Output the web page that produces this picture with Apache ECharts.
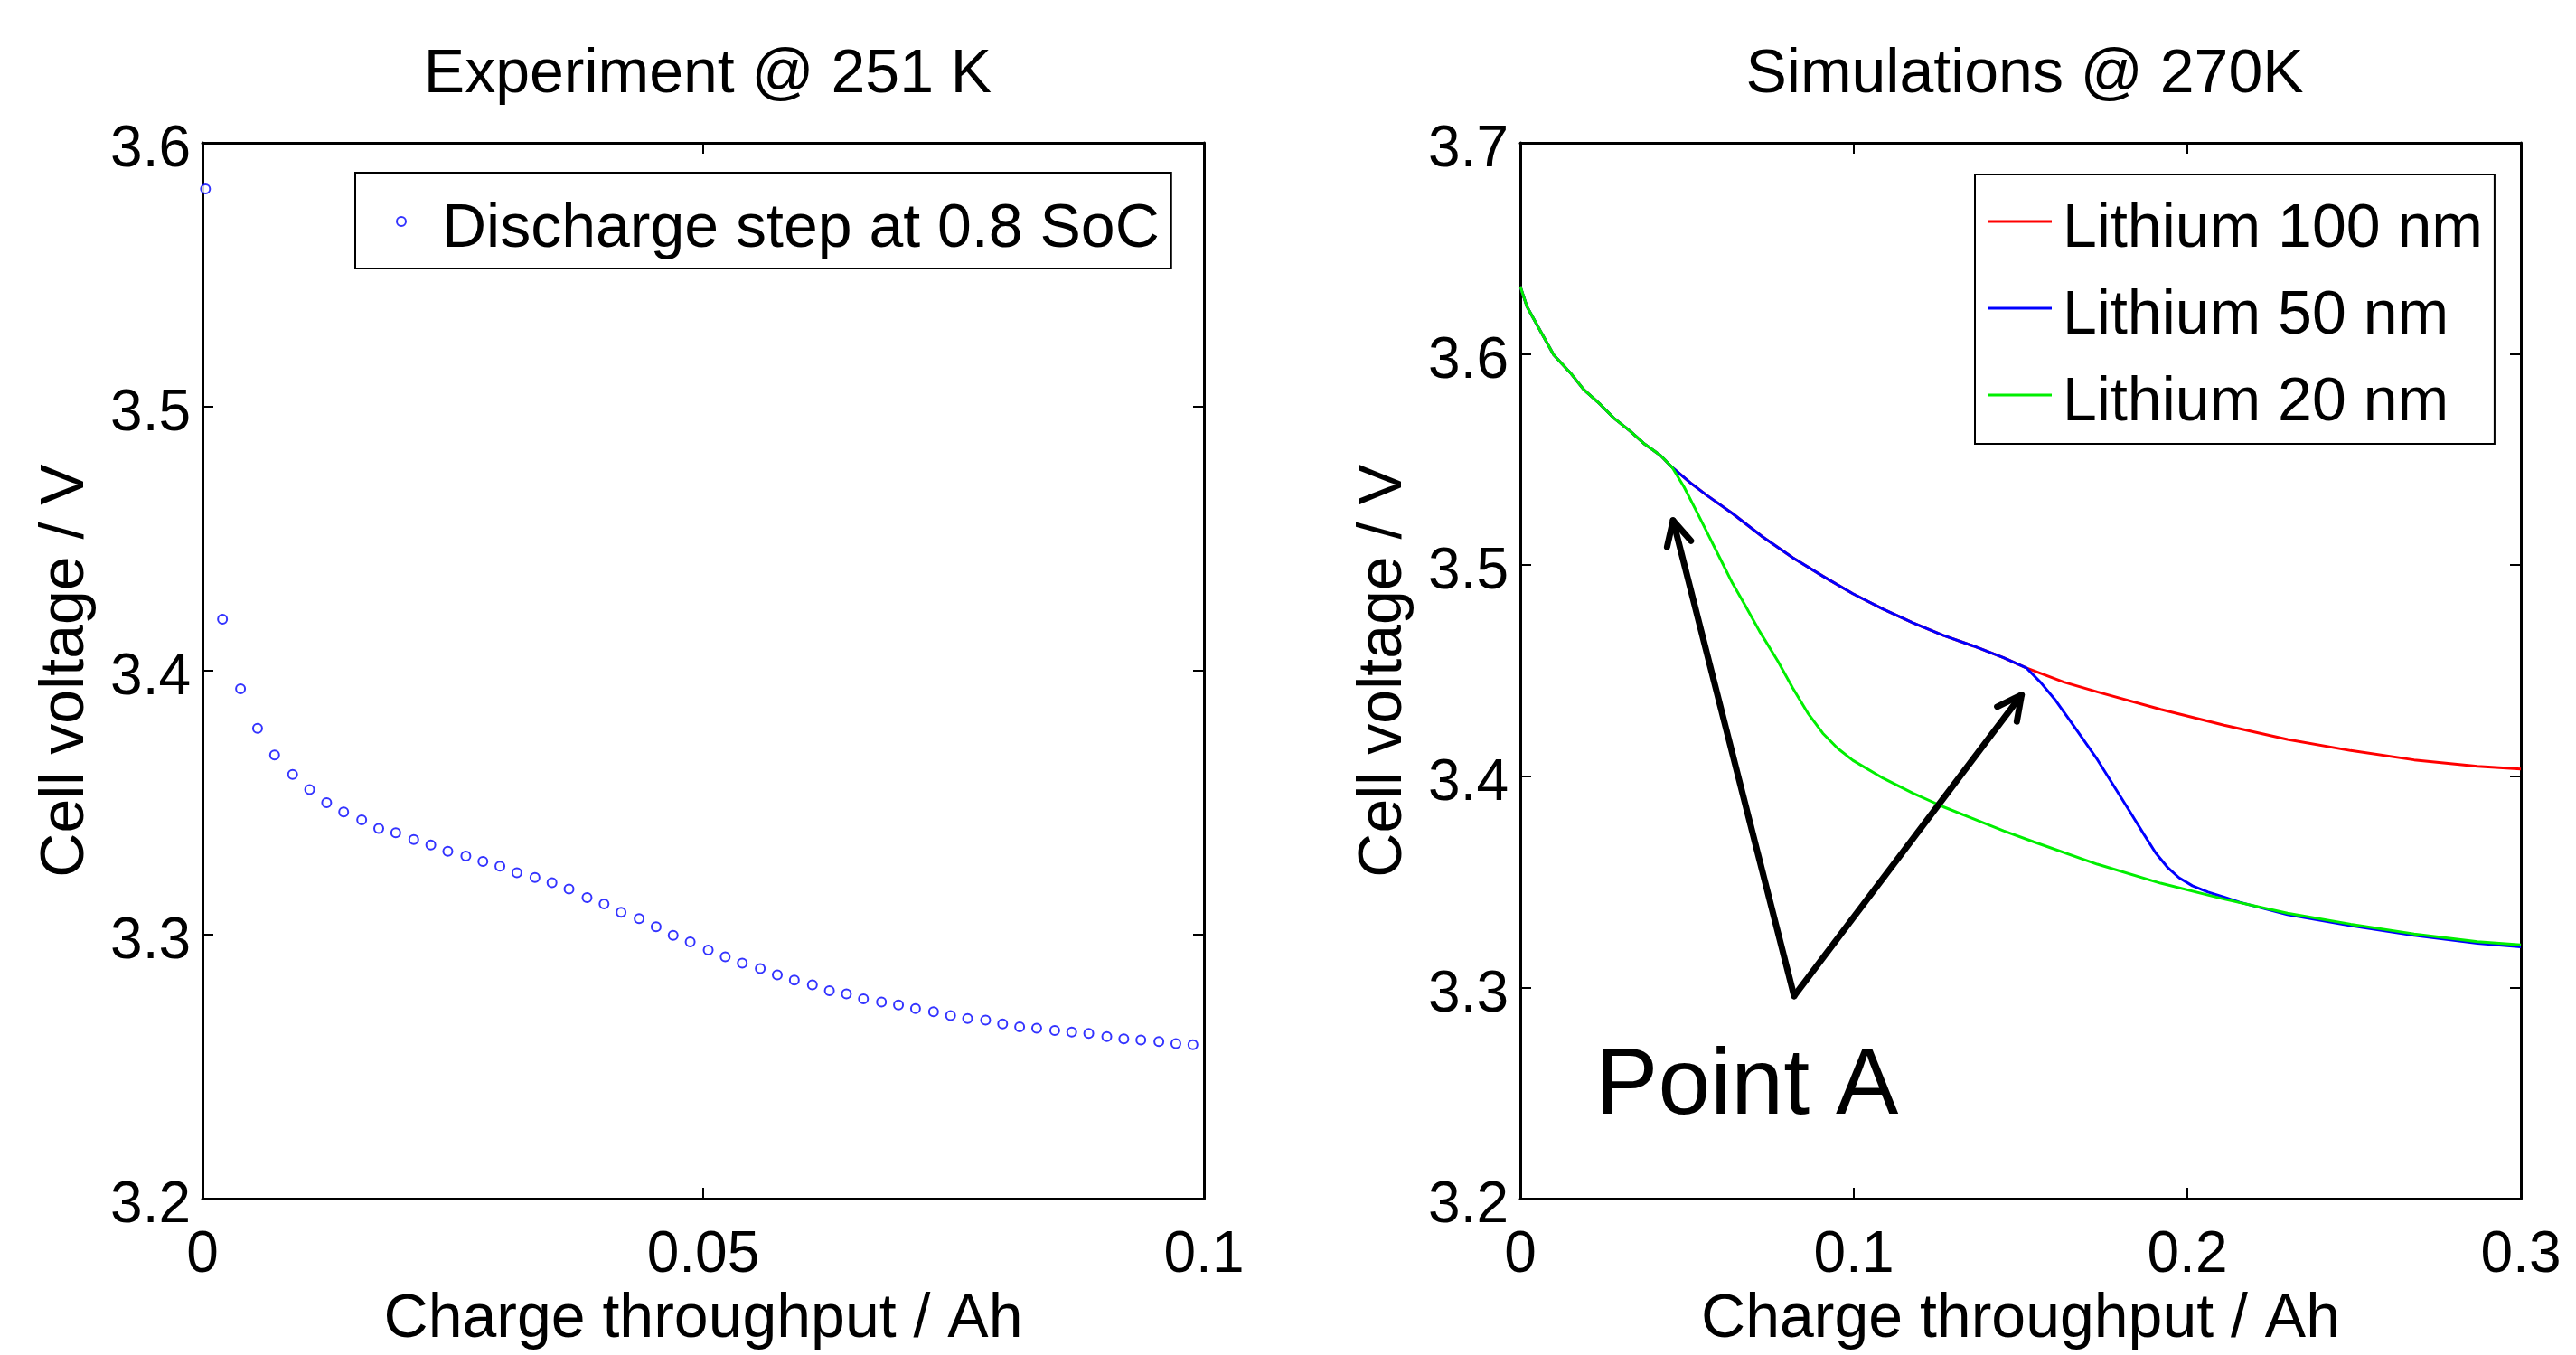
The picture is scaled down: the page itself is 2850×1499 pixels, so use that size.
<!DOCTYPE html>
<html>
<head>
<meta charset="utf-8">
<script src="https://cdn.jsdelivr.net/npm/echarts@6/dist/echarts.min.js"></script>
<style>
html,body{margin:0;padding:0;background:#fff;}
#chart{width:2850px;height:1499px;}
</style>
</head>
<body>
<div id="chart"></div>
<script>
// ---------- Left panel: experiment @ 251 K ----------
const expQ = [0.0003,0.0020,0.0038,0.0055,0.0072,0.0090,0.0107,0.0124,0.0141,0.0159,
  0.0176,0.0193,0.0211,0.0228,0.0245,0.0263,0.0280,0.0297,0.0314,0.0332,
  0.0349,0.0366,0.0384,0.0401,0.0418,0.0436,0.0453,0.0470,0.0487,0.0505,
  0.0522,0.0539,0.0557,0.0574,0.0591,0.0609,0.0626,0.0643,0.0660,0.0678,
  0.0695,0.0712,0.0730,0.0747,0.0764,0.0782,0.0799,0.0816,0.0833,0.0851,
  0.0868,0.0885,0.0903,0.0920,0.0937,0.0955,0.0972,0.0989];
const expV = [3.5825,3.4195,3.3932,3.3782,3.3681,3.3607,3.3550,3.3500,3.3465,3.3435,
  3.3403,3.3386,3.3361,3.3340,3.3316,3.3298,3.3278,3.3260,3.3235,3.3217,
  3.3197,3.3173,3.3141,3.3117,3.3085,3.3061,3.3030,3.2998,3.2973,3.2942,
  3.2916,3.2892,3.2872,3.2848,3.2828,3.2810,3.2788,3.2776,3.2757,3.2745,
  3.2734,3.2720,3.2708,3.2694,3.2683,3.2677,3.2662,3.2651,3.2646,3.2637,
  3.2631,3.2626,3.2614,3.2606,3.2601,3.2595,3.2588,3.2583];
const leftXTicks = {min:0, max:0.1, interval:0.05};
const leftYTicks = {min:3.2, max:3.6, interval:0.1};

// ---------- Right panel: simulations @ 270K ----------
// part shared by all three curves
const commonQ = [0,0.002,0.006,0.010,0.015,0.019,0.024,0.028,0.033,0.037,0.042,0.0455];
const commonV = [3.632,3.6224,3.611,3.5996,3.5911,3.5832,3.5761,3.5697,3.5634,3.5577,3.552,3.5464];
// part shared by 100 nm and 50 nm
const upperQ = [0.051,0.056,0.0636,0.0726,0.0817,0.0907,0.0997,0.1088,0.1178,0.1268,0.1359,0.1449,0.1517];
const upperV = [3.539,3.533,3.5245,3.5135,3.5035,3.4948,3.4865,3.4792,3.4727,3.4668,3.4617,3.4562,3.4514];
// tails
const redQ = [0.163,0.173,0.192,0.211,0.23,0.249,0.268,0.287,0.3];
const redV = [3.4446,3.44,3.4317,3.4242,3.4175,3.4122,3.4078,3.4048,3.4035];
const blueQ = [0.156,0.1605,0.165,0.173,0.1825,0.187,0.1905,0.194,0.1975,0.2015,0.2062,0.211,0.2157,
  0.23,0.249,0.268,0.287,0.3];
const blueV = [3.4445,3.436,3.426,3.408,3.384,3.3725,3.3638,3.357,3.352,3.3482,3.3452,3.3428,3.3404,
  3.3345,3.3293,3.3247,3.321,3.3193];
const greenQ = [0.0491,0.0528,0.0564,0.06,0.0636,0.0672,0.0717,0.0772,0.0817,0.0862,0.0907,0.0952,0.0997,
  0.1088,0.1178,0.1268,0.1359,0.1449,0.1539,0.173,0.192,0.211,0.23,0.249,0.268,0.287,0.3];
const greenV = [3.537,3.5256,3.5143,3.5029,3.4915,3.4816,3.4688,3.4546,3.4418,3.43,3.4204,3.4132,3.4076,
  3.3991,3.392,3.3856,3.3799,3.3742,3.369,3.3584,3.3494,3.3419,3.3352,3.33,3.3254,3.3217,3.3202];
const rightXTicks = {min:0, max:0.3, interval:0.1};
const rightYTicks = {min:3.2, max:3.7, interval:0.1};

const seriesNames = ['Lithium 100 nm','Lithium 50 nm','Lithium 20 nm'];
const seriesColors = ['#ff0000','#0000ff','#00ee00'];

// annotation: arrows [tailQ, tailV, headQ, headV] and label
const arrowData = [[0.0821,3.296,0.0458,3.5212],[0.0821,3.296,0.1503,3.4386]];
const pointALabel = {text:'Point A', q:0.0225, v:3.2527};

function zip(qs, vs){ return qs.map((q,i)=>[q, vs[i]]); }
const redData = zip(commonQ.concat(upperQ, redQ), commonV.concat(upperV, redV));
const blueData = zip(commonQ.concat(upperQ, blueQ), commonV.concat(upperV, blueV));
const greenData = zip(commonQ.concat(greenQ), commonV.concat(greenV));
const expData = zip(expQ, expV);

const FONT = 'Liberation Sans';
const axisLine = {show:true, onZero:false, lineStyle:{color:'#000', width:3}};
const axisTick = {show:true, inside:true, length:12, lineStyle:{color:'#000', width:2}};

function fmtX(v){ return v===0 ? '0' : String(parseFloat(v.toFixed(3))); }
function fmtY(v){ return v.toFixed(1); }

function xAxes(gi, t){
  return [
    {type:'value', gridIndex:gi, position:'bottom', min:t.min, max:t.max, interval:t.interval,
     axisLine, axisTick, splitLine:{show:false},
     axisLabel:{show:true, margin:31, fontSize:64, color:'#000', fontFamily:FONT, formatter:fmtX,
                showMinLabel:true, showMaxLabel:true},
     name:'Charge throughput / Ah', nameLocation:'middle', nameGap:99,
     nameTextStyle:{fontSize:68, color:'#000', fontFamily:FONT}},
    {type:'value', gridIndex:gi, position:'top', min:t.min, max:t.max, interval:t.interval,
     axisLine, axisTick, splitLine:{show:false}, axisLabel:{show:false}}
  ];
}
function yAxes(gi, t){
  return [
    {type:'value', gridIndex:gi, position:'left', min:t.min, max:t.max, interval:t.interval,
     axisLine, axisTick, splitLine:{show:false},
     axisLabel:{show:true, margin:13, fontSize:64, lineHeight:17, verticalAlign:'top',
                color:'#000', fontFamily:FONT, formatter:fmtY,
                showMinLabel:true, showMaxLabel:true},
     name:'Cell voltage / V', nameLocation:'middle', nameGap:117,
     nameTextStyle:{fontSize:68, color:'#000', fontFamily:FONT}},
    {type:'value', gridIndex:gi, position:'right', min:t.min, max:t.max, interval:t.interval,
     axisLine, axisTick, splitLine:{show:false}, axisLabel:{show:false}}
  ];
}

const legendRich = {t:{fontSize:68, lineHeight:68, color:'#000', fontFamily:FONT}};
const lineCommon = {type:'line', xAxisIndex:2, yAxisIndex:2, showSymbol:false, smooth:false};

const chart = echarts.init(document.getElementById('chart'), null, {renderer:'canvas'});
const option = {
  animation:false,
  backgroundColor:'#fff',
  textStyle:{fontFamily:FONT},
  title:[
    {text:'Experiment @ 251 K', left:778, top:44, textAlign:'center',
     textStyle:{fontSize:68, fontWeight:'normal', color:'#000', fontFamily:FONT}},
    {text:'Simulations @ 270K', left:2235, top:44, textAlign:'center',
     textStyle:{fontSize:68, fontWeight:'normal', color:'#000', fontFamily:FONT}}
  ],
  grid:[
    {left:224, top:158, width:1108, height:1172},
    {left:1682, top:158, width:1107, height:1172}
  ],
  xAxis: xAxes(0, leftXTicks).concat(xAxes(1, rightXTicks)),
  yAxis: yAxes(0, leftYTicks).concat(yAxes(1, rightYTicks)),
  legend:[
    {data:[{name:'Discharge step at 0.8 SoC', icon:'emptyCircle'}], left:393, top:191,
     orient:'vertical', padding:[11,13,9,45], itemWidth:10, itemHeight:10,
     borderColor:'#000', borderWidth:2, backgroundColor:'#fff',
     formatter:'{t|{name}}',
     textStyle:{fontSize:68, lineHeight:68, color:'#000', fontFamily:FONT, padding:[18,0,0,35], rich:legendRich},
     selectedMode:false},
    {data:seriesNames.map(n=>({name:n, icon:'rect'})), left:2185, top:193,
     orient:'vertical', padding:[9,13,11,14], itemWidth:71, itemHeight:3, itemGap:10,
     borderColor:'#000', borderWidth:2, backgroundColor:'#fff',
     formatter:'{t|{name}}',
     textStyle:{fontSize:68, lineHeight:68, color:'#000', fontFamily:FONT, padding:[18,0,0,7], rich:legendRich},
     selectedMode:false}
  ],
  series:[
    {name:'Discharge step at 0.8 SoC', type:'scatter', xAxisIndex:0, yAxisIndex:0,
     data:expData, symbol:'emptyCircle', symbolSize:10, clip:false,
     itemStyle:{color:'#0000ff', borderColor:'#0000ff', borderWidth:2}},
    Object.assign({name:seriesNames[0], data:redData,
     lineStyle:{color:seriesColors[0], width:3}, itemStyle:{color:seriesColors[0]}}, lineCommon),
    Object.assign({name:seriesNames[1], data:blueData,
     lineStyle:{color:seriesColors[1], width:3}, itemStyle:{color:seriesColors[1]}}, lineCommon),
    Object.assign({name:seriesNames[2], data:greenData,
     lineStyle:{color:seriesColors[2], width:3}, itemStyle:{color:seriesColors[2]}}, lineCommon),
    {type:'custom', xAxisIndex:2, yAxisIndex:2, data:arrowData, clip:false, z:10,
     encode:{x:[0,2], y:[1,3]},
     renderItem:function(params, api){
       const tail = api.coord([api.value(0), api.value(1)]);
       const head = api.coord([api.value(2), api.value(3)]);
       const ang = Math.atan2(tail[1]-head[1], tail[0]-head[0]);
       const L = 30, a = 27*Math.PI/180;
       const w1 = [head[0]+L*Math.cos(ang+a), head[1]+L*Math.sin(ang+a)];
       const w2 = [head[0]+L*Math.cos(ang-a), head[1]+L*Math.sin(ang-a)];
       const style = {stroke:'#000', lineWidth:7, lineCap:'round', lineJoin:'round', fill:null};
       return {type:'group', children:[
         {type:'polyline', shape:{points:[tail, head]}, style:style},
         {type:'polyline', shape:{points:[w1, head, w2]}, style:style}
       ]};
     }},
    {type:'custom', xAxisIndex:2, yAxisIndex:2, data:[[pointALabel.q, pointALabel.v]], clip:false, z:10,
     encode:{x:0, y:1},
     renderItem:function(params, api){
       const p = api.coord([api.value(0), api.value(1)]);
       return {type:'text', x:p[0], y:p[1],
         style:{text:pointALabel.text, fill:'#000', font:'104px "Liberation Sans"',
                align:'left', verticalAlign:'middle'}};
     }}
  ]
};
chart.setOption(option);
</script>
</body>
</html>
